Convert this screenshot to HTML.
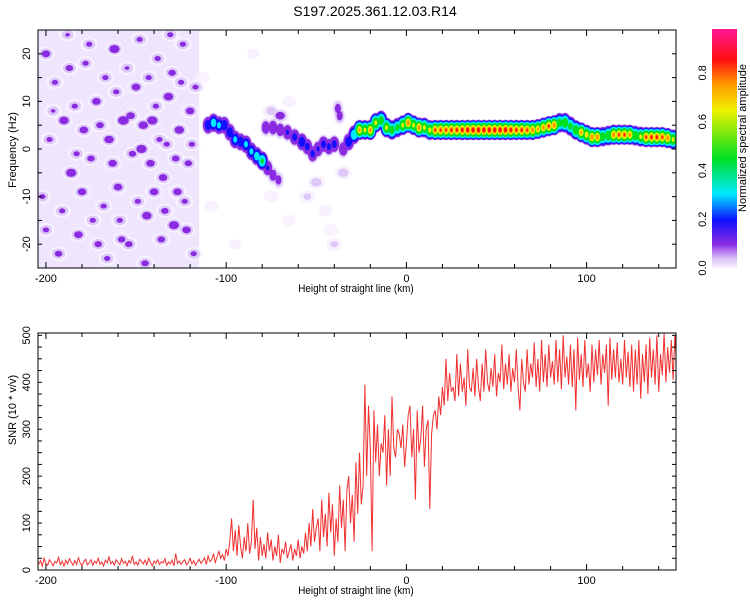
<!DOCTYPE html>
<html><head><meta charset="utf-8"><style>
body{margin:0;background:#fff;}
svg{display:block;font-family:"Liberation Sans",sans-serif;}
</style></head><body>
<svg id="chart" width="750" height="600" viewBox="0 0 750 600">
<defs>
<linearGradient id="cbar" x1="0" y1="1" x2="0" y2="0">
<stop offset="0" stop-color="#f8f2ff"/><stop offset="0.04" stop-color="#d9c2f7"/><stop offset="0.1" stop-color="#8a2be2"/>
<stop offset="0.2" stop-color="#1010ff"/><stop offset="0.31" stop-color="#00e8ff"/><stop offset="0.46" stop-color="#00e020"/>
<stop offset="0.66" stop-color="#f0f000"/><stop offset="0.77" stop-color="#ff9900"/><stop offset="0.87" stop-color="#ff1010"/>
<stop offset="1" stop-color="#ff1493"/>
</linearGradient>
</defs>
<text x="375" y="16" text-anchor="middle" font-size="14">S197.2025.361.12.03.R14</text>
<g id="top"></g>
<g id="bot"></g>
<g id="cb"></g>
</svg>
<script>
// ---- data ----
const snrStart = -204; // km of first sample, step 1 km
const snrValues = [
12,20,8,25,14,10,22,16,9,18, 15,27,11,19,8,21,13,24,17,10, 20,12,26,15,9,18,23,11,16,22,
10,19,14,25,12,17,8,21,15,28, 13,18,10,22,16,11,24,14,19,9, 20,15,30,12,17,10,23,18,13,21,
11,25,16,9,19,14,22,12,18,15, 24,10,17,13,21,9,35,14,19,12, 18,22,11,16,25,13,20,10,17,23,
14,19,26,12,30,18,22,35,16,28, 40,25,33,20,45,30,60,110,40,85, 30,95,50,25,70,40,100,35,60,150,
45,90,20,70,30,55,25,80,40,65, 20,50,30,75,15,45,35,60,25,40, 55,20,45,30,65,25,50,35,80,40,
100,50,130,60,90,110,40,150,70,120, 50,165,80,140,30,110,60,180,90,150, 40,170,200,100,160,60,230,120,250,140,
180,395,200,350,260,40,340,230,310,200, 270,250,330,180,300,200,370,260,240,300, 290,260,310,220,270,330,350,240,300,150,
340,250,280,350,220,300,320,130,290,330, 340,300,370,330,390,350,450,360,420,380, 390,360,460,370,440,380,410,350,470,390,
380,430,370,450,390,360,440,380,470,400, 380,430,390,460,370,420,400,480,385,440, 395,460,380,430,400,470,390,340,450,400,
380,470,395,440,410,485,390,450,380,490, 400,460,390,480,410,445,395,490,400,470, 385,500,410,455,395,480,390,470,340,495,
405,460,390,490,410,440,380,480,400,470, 415,490,395,460,420,480,350,495,405,470, 410,485,400,450,395,490,410,465,390,480,
380,470,395,490,365,460,400,480,375,495, 410,470,395,500,380,460,415,505,400,475, 420,490,405,500,430];
const ridgeKm  = [-110,-107,-104,-101,-98,-95,-92,-89,-86,-83,-80,-77,-74,-71,-78,-74,-70,-66,-62,-58,-55,-52,-49,-46,-43,-40,-38,-37,-35,-32,-29,-26,-23,-20,-17,-14,-11,-8,-5,-2,1,4,7,10,13,16,19,22,25,28,31,34,37,40,43,46,49,52,55,58,61,64,67,70,73,76,79,82,85,88,91,94,97,100,103,106,109,112,115,118,121,124,127,130,133,136,139,142,145,148];
const ridgeHz  = [5,5.5,5,5,3.5,2,1.5,1,-0.5,-1.5,-2.5,-4,-5.5,-6.5,4.5,4.5,4,3.5,2.5,1.5,0.5,-1,0,1,0.5,1,8.5,7,0,1.5,3,4,4,4,5.5,6,4.5,4,4.5,5,5.5,5,4.5,4.5,4,4,4,4,4,4,4,4,4,4,4,4,4,4,4,4,4,4,4,4,4.2,4.5,4.8,5,5.5,5.5,4.8,4,3.5,3,2.5,2.5,2.6,2.8,3,3,3,3,2.8,2.6,2.5,2.5,2.5,2.5,2.3,2];
const ridgeAmp = [0.3,0.4,0.35,0.3,0.3,0.35,0.3,0.35,0.35,0.4,0.5,0.22,0.16,0.14,0.18,0.2,0.18,0.22,0.25,0.3,0.25,0.24,0.22,0.25,0.24,0.25,0.14,0.14,0.2,0.3,0.45,0.8,0.7,0.82,0.7,0.6,0.7,0.6,0.55,0.7,0.86,0.7,0.85,0.7,0.72,0.88,0.88,0.88,0.9,0.9,0.92,0.95,0.95,0.95,0.95,0.95,0.95,0.95,0.95,0.92,0.9,0.9,0.88,0.85,0.8,0.82,0.88,0.85,0.6,0.65,0.55,0.65,0.8,0.75,0.85,0.85,0.6,0.65,0.85,0.88,0.88,0.82,0.65,0.7,0.88,0.9,0.9,0.88,0.85,0.7];
const noiseKm  = [-200,-195,-190,-186,-182,-178,-175,-172,-168,-165,-162,-160,-157,-154,-150,-147,-144,-141,-138,-135,-132,-129,-126,-123,-120,-118,-202,-198,-193,-188,-184,-180,-176,-171,-167,-163,-159,-155,-152,-148,-145,-142,-139,-136,-133,-130,-127,-124,-121,-117,-200,-196,-191,-187,-183,-179,-174,-170,-166,-161,-158,-153,-149,-146,-143,-140,-137,-134,-131,-128,-125,-122,-119,-113,-108,-95,-85,-75,-65,-55,-50,-45,-40,-42,-35,-65,-70,-75];
const noiseHz  = [20,14,6,-5,-18,18,-2,10,-12,2,21,-8,6,-20,13,0,-14,6,19,-6,11,-16,4,-11,8,-22,-10,2,-22,24,9,-9,22,-20,15,-3,-15,17,-1,23,-24,-3,9,-19,1,16,-9,22,-3,13,-17,8,-13,17,-1,4,-15,5,-23,12,-19,7,-11,5,15,-9,2,-13,24,-2,14,-17,1,15,-12,-20,20,-10,-15,-10,-7,-13,-20,-17,-5,10,7,8];
const noiseAmp = [0.14,0.12,0.15,0.16,0.14,0.12,0.13,0.14,0.12,0.15,0.16,0.14,0.17,0.13,0.14,0.16,0.15,0.16,0.12,0.14,0.15,0.16,0.15,0.12,0.14,0.12,0.12,0.12,0.13,0.11,0.12,0.14,0.12,0.13,0.12,0.14,0.12,0.11,0.13,0.12,0.13,0.14,0.12,0.13,0.12,0.13,0.14,0.12,0.13,0.12,0.12,0.11,0.12,0.13,0.12,0.14,0.12,0.13,0.12,0.12,0.13,0.14,0.12,0.15,0.12,0.14,0.12,0.13,0.12,0.13,0.12,0.14,0.12,0.05,0.05,0.04,0.04,0.06,0.05,0.08,0.1,0.05,0.08,0.06,0.1,0.05,0.15,0.1];
const xTicks = [-200,-100,0,100];
const freqTicks = [-20,-10,0,10,20];
const snrTicks = [0,100,200,300,400,500];
const cbTicks = [0,0.2,0.4,0.6,0.8];

const NS='http://www.w3.org/2000/svg';
function mk(tag,attrs,parent){const e=document.createElementNS(NS,tag);for(const k in attrs)e.setAttribute(k,attrs[k]);parent.appendChild(e);return e;}
const L=38,R=676;
const KM0=-204.4,KM1=149.6;
const xs=v=>L+(v-KM0)/(KM1-KM0)*(R-L);
const T1=30,B1=268, ys1=f=>B1-(f+25)/50*(B1-T1);
const T2=333,B2=570, ys2=s=>B2-s/505*(B2-T2);
const CBT=29,CBB=268, yc=a=>CBB-a/0.98*(CBB-CBT);

const stops=[[0,'#f8f2ff'],[0.04,'#ddc8f8'],[0.1,'#8a2be2'],[0.2,'#1010ff'],[0.3,'#00e8ff'],[0.45,'#00e020'],[0.65,'#f0f000'],[0.75,'#ff9900'],[0.85,'#ff1010'],[0.98,'#ff1493']];
function cmap(a){let c=stops[0][1];for(const s of stops){if(a>=s[0])c=s[1];}return c;}

const topG=document.getElementById('top');


const clip=mk('clipPath',{id:'c1'},topG);mk('rect',{x:L,y:T1,width:R-L,height:B1-T1},clip);
const heat=mk('g',{'clip-path':'url(#c1)'},topG);


const bg=mk('rect',{x:L,y:T1,width:xs(-115)-L,height:B1-T1,fill:'#efe5fc'},heat);


const levels=[0.02,0.06,0.1,0.15,0.2,0.3,0.45,0.65,0.78,0.87];
const marks=[];
noiseKm.forEach((k,i)=>marks.push({x:xs(k),y:ys1(noiseHz[i]),a:noiseAmp[i],rx:10,ry:8}));
ridgeKm.forEach((k,i)=>marks.push({x:xs(k),y:ys1(ridgeHz[i]),a:ridgeAmp[i],rx:7,ry:11}));
levels.forEach(lv=>{
  marks.forEach(m=>{
    if(lv>=m.a)return;
    const s=Math.pow(1-lv/m.a,0.8)*0.9+0.1;
    const e=mk('ellipse',{cx:m.x,cy:m.y,rx:m.rx*s,ry:m.ry*s,fill:cmap(lv+0.001)},heat);
    
    
  });
});

function frame(g,T,B,yTicksArr,ysf,minorStep,minorMin,minorMax,yTitle,yTitleY){
  mk('rect',{x:L,y:T,width:R-L,height:B-T,fill:'none',stroke:'#000','stroke-width':1},g);
  for(let k=-200;k<=140;k+=20){const x=xs(k);const mj=k%100===0?6:4;
    mk('line',{x1:x,y1:B,x2:x,y2:B-mj,stroke:'#000'},g);mk('line',{x1:x,y1:T,x2:x,y2:T+mj,stroke:'#000'},g);}
  for(let v=minorMin;v<=minorMax;v+=minorStep){const y=ysf(v);
    mk('line',{x1:L,y1:y,x2:L+4,y2:y,stroke:'#000'},g);mk('line',{x1:R,y1:y,x2:R-4,y2:y,stroke:'#000'},g);}
  xTicks.forEach(k=>{const t=mk('text',{x:xs(k),y:B+14,'text-anchor':'middle','font-size':11},g);t.textContent=k;
    
    });
  yTicksArr.forEach(v=>{const y=ysf(v);const t=mk('text',{x:0,y:0,'text-anchor':'middle','font-size':11,transform:`translate(30,${y}) rotate(-90)`},g);t.textContent=v;
    
    });
  const xt=mk('text',{x:356,y:B+24,'text-anchor':'middle','font-size':11,'transform':`translate(356,0) scale(0.9,1) translate(-356,0)`},g);xt.textContent='Height of straight line (km)';
  
  
  const yt=mk('text',{x:0,y:0,'text-anchor':'middle','font-size':11,transform:`translate(16,${yTitleY}) rotate(-90)`},g);yt.textContent=yTitle;
  
  
}
frame(topG,T1,B1,freqTicks,ys1,5,-25,25,'Frequency (Hz)',150);

const bot=document.getElementById('bot');


const clip2=mk('clipPath',{id:'c2'},bot);mk('rect',{x:L,y:T2,width:R-L,height:B2-T2},clip2);
let d='';snrValues.forEach((v,i)=>{d+=(i?'L':'M')+xs(snrStart+i).toFixed(1)+','+ys2(v).toFixed(1);});
const line=mk('path',{d:d,fill:'none',stroke:'#f03030','stroke-width':1,'clip-path':'url(#c2)'},bot);


frame(bot,T2,B2,snrTicks,ys2,25,0,500,'SNR (10 * v/v)',410);

const cb=document.getElementById('cb');


const cr=mk('rect',{x:712,y:CBT,width:25,height:CBB-CBT,fill:'url(#cbar)'},cb);


cbTicks.forEach(v=>{const t=mk('text',{x:0,y:0,'text-anchor':'middle','font-size':11,transform:`translate(706,${yc(v)}) rotate(-90)`},cb);t.textContent=v.toFixed(1);
  
  });
const ct=mk('text',{x:0,y:0,'text-anchor':'middle','font-size':11,transform:'translate(746,138) rotate(-90)'},cb);ct.textContent='Normalized spectral amplitude';


</script>
</body></html>
